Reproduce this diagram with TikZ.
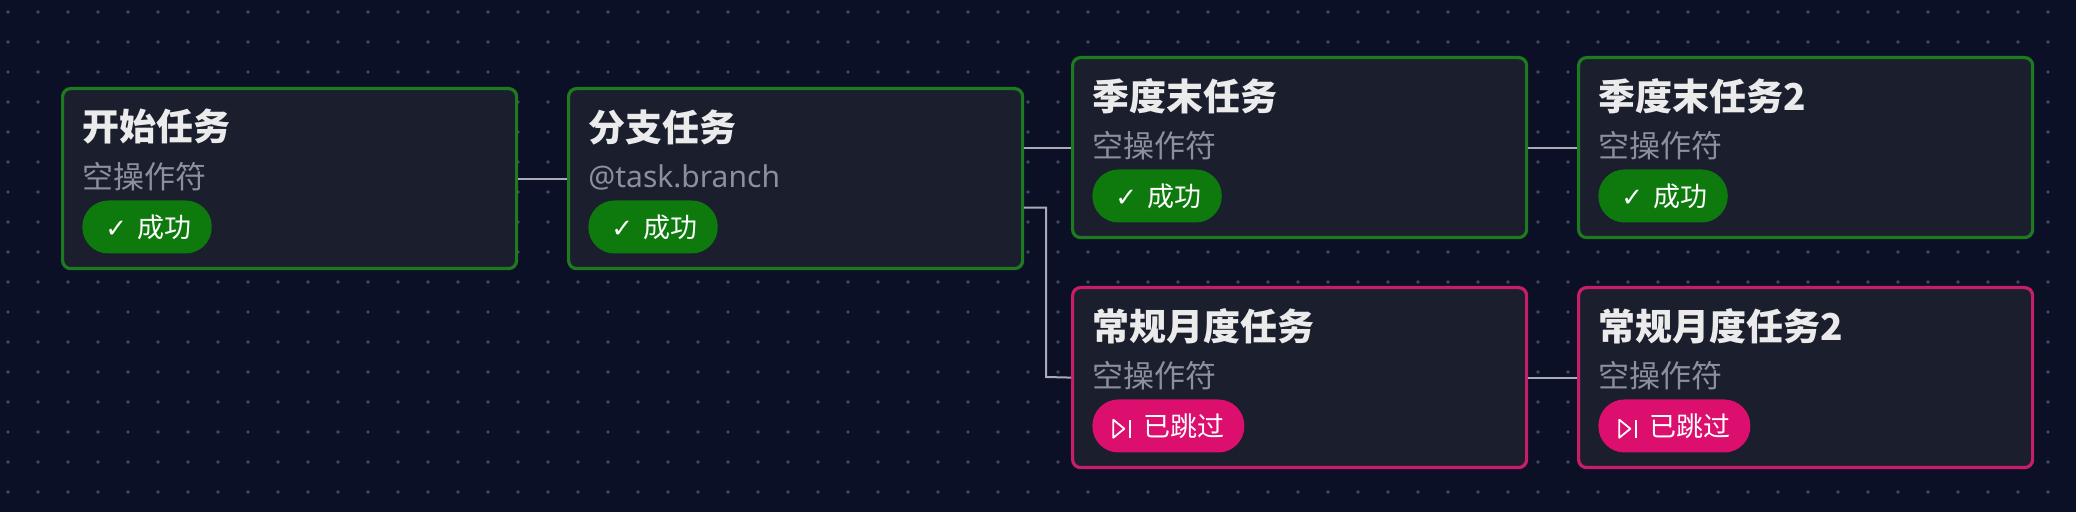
\documentclass[tikz,border=0pt]{standalone}
\usepackage{fontspec}
\setmainfont{Noto Sans}
\newfontfamily\cjk{Noto Sans CJK SC}
\newfontfamily\symb{DejaVu Sans}
\usetikzlibrary{positioning,calc}
\definecolor{bgnavy}{HTML}{0B1026}
\definecolor{boxfill}{HTML}{1A1E2D}
\definecolor{okline}{HTML}{1E7A1E}
\definecolor{okfill}{HTML}{0E7A0E}
\definecolor{skipline}{HTML}{C81E6A}
\definecolor{skipfill}{HTML}{DC0E6E}
\definecolor{subgray}{HTML}{8C909C}
\definecolor{dotgray}{HTML}{444B68}
\definecolor{wiregray}{HTML}{A8ACB8}
\tikzset{
  task/.style={draw, line width=1.6pt, fill=boxfill, rounded corners=4pt,
    minimum width=227pt, minimum height=90pt, inner sep=0pt},
  ok/.style={draw=okline},
  skip/.style={draw=skipline},
  title/.style={anchor=west, text=white!92!black, font=\cjk\bfseries\fontsize{18.5}{20}\selectfont, inner sep=0pt},
  sub/.style={anchor=west, text=subgray, font=\cjk\fontsize{15.5}{18}\selectfont, inner sep=0pt},
  badge/.style={anchor=west, text=white, rounded corners=13pt, minimum height=26.5pt,
    inner xsep=10pt, inner ysep=0pt, font=\cjk\fontsize{13.5}{15}\selectfont},
  wire/.style={draw=wiregray, line width=1pt}
}
\newcommand{\okicon}{\hspace{1.5pt}{\symb\fontsize{13}{14}\selectfont ✓}\ \,}
\newcommand{\skipicon}{\tikz[baseline=-0.5ex,x=1pt,y=1pt,line width=0.9pt,sharp corners]{\draw[line join=round] (0,-4.5) -- (5.5,0) -- (0,4.5) -- cycle; \draw (8.5,-4.5) -- (8.5,4.5);}\ \ }
% one task box: name, x, y (top-left, px), title, subtitle, state, badge text
\newcommand{\taskbox}[7]{%
  \node[task, #6, anchor=north west] (#1) at (#2,#3) {};
  \node[title] (#1-t) at ($(#1.north west)+(10.5pt,-20pt)$) {#4};
  \node[sub] (#1-s) at ($(#1.north west)+(10.5pt,-45pt)$) {#5};
  \node[badge, fill=#6fill] (#1-b) at ($(#1.north west)+(10.5pt,-70pt)$) {#7};
}
\begin{document}
\begin{tikzpicture}[x=0.5pt,y=-0.5pt]
  \fill[bgnavy] (0,0) rectangle (2076,512);
  \useasboundingbox (0,0) rectangle (2076,512);
  % dotted grid
  \foreach \gx in {8,38,...,2076}
    \foreach \gy in {12,42,...,512}
      \fill[dotgray] (\gx,\gy) circle (0.9pt);
  \taskbox{start}{61}{87}{开始任务}{空操作符}{ok}{\okicon 成功}
  \taskbox{branch}{567}{87}{分支任务}{\normalfont\fontsize{15}{18}\selectfont @task.branch}{ok}{\okicon 成功}
  \taskbox{qend}{1071}{56}{季度末任务}{空操作符}{ok}{\okicon 成功}
  \taskbox{qend2}{1577}{56}{季度末任务2}{空操作符}{ok}{\okicon 成功}
  \taskbox{month}{1071}{286}{常规月度任务}{空操作符}{skip}{\skipicon 已跳过}
  \taskbox{month2}{1577}{286}{常规月度任务2}{空操作符}{skip}{\skipicon 已跳过}
  % connectors
  \draw[wire] (start.east) -- (branch.west);
  \draw[wire] (branch.east |- qend.west) -- (qend.west);
  \draw[wire] ($(branch.east)+(0,29)$) -| (1046,377) -- (month.west);
  \draw[wire] (qend.east) -- (qend2.west);
  \draw[wire] (month.east) -- (month2.west);
\end{tikzpicture}
\end{document}
